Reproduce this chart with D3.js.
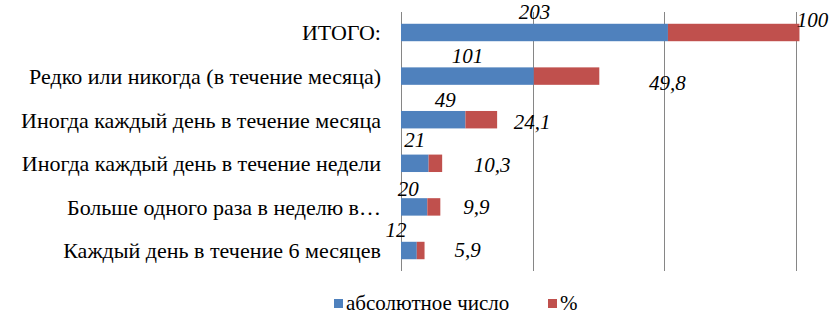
<!DOCTYPE html>
<html>
<head>
<meta charset="utf-8">
<script src="https://cdn.jsdelivr.net/npm/d3@7"></script>
<style>
  body { margin: 0; background: #fff; }
</style>
</head>
<body>
<svg width="829" height="315"></svg>
<script>
var categories = [
  "ИТОГО:",
  "Редко или никогда (в течение месяца)",
  "Иногда каждый день в течение месяца",
  "Иногда каждый день в течение недели",
  "Больше одного раза в неделю в…",
  "Каждый день в течение 6 месяцев"
];
var absValues = [203, 101, 49, 21, 20, 12];
var pctValues = [100, 49.8, 24.1, 10.3, 9.9, 5.9];
var seriesNames = ["абсолютное число", "%"];
var xTicks = [0, 100, 200, 300];

// manual label nudges (like dragged labels in the original)
var absNudge = [[0, -5], [0, -4], [12, -4], [0, -8], [-6, -2], [-13, -5]];
var pctNudge = [[13, -13], [68, 7], [35, 2], [50, 1], [36, 0], [43, -1]];

var colors = ["#4f81bd", "#c0504d"];
var serif = "Liberation Serif, Tinos, Noto Serif, DejaVu Serif, FreeSerif, serif";

var svg = d3.select("svg")
    .style("font-family", serif),
    width = +svg.attr("width"),
    height = +svg.attr("height");

var x = d3.scaleLinear()
    .domain([0, 300])
    .range([401, 795.5]);

var y = d3.scaleBand()
    .domain(categories)
    .range([12, 271])
    .paddingInner(0.6)
    .paddingOuter(0.27);

// gridlines
svg.selectAll(".grid")
  .data(xTicks)
  .enter().append("line")
    .attr("x1", function(d) { return Math.round(x(d)) + 0.5; })
    .attr("x2", function(d) { return Math.round(x(d)) + 0.5; })
    .attr("y1", 12)
    .attr("y2", 271)
    .attr("stroke", "#868686")
    .attr("stroke-width", 1);

var rows = categories.map(function(c, i) {
  return {cat: c, a: absValues[i], p: pctValues[i], i: i};
});

// blue segments
svg.selectAll(".abs")
  .data(rows)
  .enter().append("rect")
    .attr("x", x(0))
    .attr("y", function(d) { return y(d.cat); })
    .attr("width", function(d) { return x(d.a) - x(0); })
    .attr("height", y.bandwidth())
    .attr("fill", colors[0]);

// red segments
svg.selectAll(".pct")
  .data(rows)
  .enter().append("rect")
    .attr("x", function(d) { return x(d.a); })
    .attr("y", function(d) { return y(d.cat); })
    .attr("width", function(d) { return x(d.a + d.p) - x(d.a); })
    .attr("height", y.bandwidth())
    .attr("fill", colors[1]);

// category labels
svg.selectAll(".cat")
  .data(rows)
  .enter().append("text")
    .attr("x", 381)
    .attr("y", function(d) { return y(d.cat) + y.bandwidth() / 2; })
    .attr("dy", "0.36em")
    .attr("text-anchor", "end")
    .style("font-family", serif)
    .style("font-size", "22px")
    .attr("fill", "#000")
    .text(function(d) { return d.cat; });

var fmt = function(v) { return String(v).replace(".", ","); };

// absolute value labels
svg.selectAll(".absLbl")
  .data(rows)
  .enter().append("text")
    .attr("x", function(d) { return (x(0) + x(d.a)) / 2 + absNudge[d.i][0]; })
    .attr("y", function(d) { return y(d.cat) + absNudge[d.i][1]; })
    .attr("text-anchor", "middle")
    .style("font-family", serif)
    .style("font-size", "21px")
    .style("font-style", "italic")
    .attr("fill", "#000")
    .text(function(d) { return d.a; });

// percent labels
svg.selectAll(".pctLbl")
  .data(rows)
  .enter().append("text")
    .attr("x", function(d) { return x(d.a + d.p) + pctNudge[d.i][0]; })
    .attr("y", function(d) { return y(d.cat) + y.bandwidth() / 2 + pctNudge[d.i][1]; })
    .attr("dy", "0.35em")
    .attr("text-anchor", "middle")
    .style("font-family", serif)
    .style("font-size", "21px")
    .style("font-style", "italic")
    .attr("fill", "#000")
    .text(function(d) { return fmt(d.p); });

// legend
var legend = svg.append("g").attr("transform", "translate(334,299)");
var lx = [0, 214];
seriesNames.forEach(function(name, i) {
  var g = legend.append("g").attr("transform", "translate(" + lx[i] + ",0)");
  g.append("rect")
    .attr("width", 9).attr("height", 9)
    .attr("fill", colors[i]);
  g.append("text")
    .attr("x", 12)
    .attr("y", 11)
    .style("font-family", serif)
    .style("font-size", "21px")
    .attr("fill", "#000")
    .text(name);
});
</script>
</body>
</html>
